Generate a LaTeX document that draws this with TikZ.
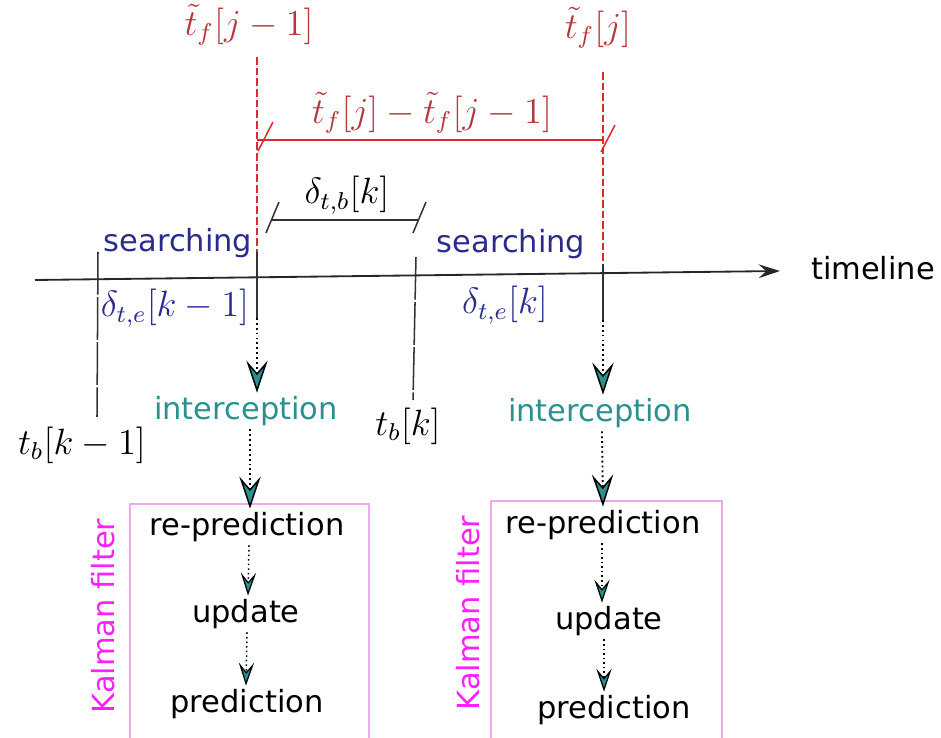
\documentclass[tikz,border=0pt]{standalone}
\usepackage{fontspec}
\setmainfont{DejaVu Sans}
\usetikzlibrary{arrows.meta,positioning}
\definecolor{markred}{HTML}{E0282D}
\definecolor{labelred}{HTML}{B5373B}
\definecolor{phaseblue}{HTML}{2B2B8F}
\definecolor{intcteal}{HTML}{2A9090}
\definecolor{kalmanmag}{HTML}{FF1FFF}
\definecolor{boxpink}{HTML}{F2A6F2}
\definecolor{markgray}{HTML}{333333}
\tikzset{
  redmath/.style={text=labelred, font=\large, inner sep=1pt},
  blackmath/.style={text=black, font=\large, inner sep=1pt},
  bluemath/.style={text=phaseblue, font=\large, inner sep=1pt},
  phase/.style={text=phaseblue, inner sep=1pt},
  intc/.style={text=intcteal, inner sep=1pt},
  kfstep/.style={text=black, inner sep=1pt},
  kflabel/.style={text=kalmanmag, rotate=90, inner sep=1pt},
  kfbox/.style={draw=boxpink, line width=0.6pt},
  redmark/.style={draw=markred, line width=0.6pt, dash pattern=on 2.5pt off 1pt},
  redline/.style={draw=markred, line width=0.5pt},
  blackmark/.style={draw=markgray, line width=0.5pt},
  beammark/.style={draw=markgray, line width=0.5pt, dash pattern=on 14pt off 0.8pt},
  timearrow/.style={-{Stealth[length=7pt,width=4.5pt,inset=2.5pt]}, line width=0.6pt, draw=black!85},
  flowarrow/.style={-{Stealth[length=10.5pt,width=7pt,inset=4pt,fill=intcteal,color=black,line width=0.5pt]},
    densely dotted, line width=0.6pt, draw=black},
  kfarrow/.style={-{Stealth[length=7.5pt,width=5pt,inset=3pt,fill=intcteal,color=black,line width=0.4pt]},
    densely dotted, line width=0.5pt, draw=black}
}
\begin{document}
\begin{tikzpicture}[x=0.328pt,y=-0.328pt]
\useasboundingbox (0,0) rectangle (941,738);

% timeline
\coordinate (t0) at (35,280);
\coordinate (t1) at (780,271);
\draw[timearrow] (t0) -- (t1);
\node (tl) at (873,268) {timeline};

% estimated frame times
\node[redmath] (fjm) at (249,25) {$\tilde{t}_f[j-1]$};
\node[redmath] (fj) at (598,28) {$\tilde{t}_f[j]$};
\coordinate (fjmtop) at (257,57);
\coordinate (fjmaxis) at (257,252);
\coordinate (fjmend) at (257,318);
\coordinate (fjtop) at (603,72);
\coordinate (fjaxis) at (603,264);
\coordinate (fjend) at (603,320);
\draw[redmark] (fjmtop) -- (fjmaxis);
\draw[redmark] (fjtop) -- (fjaxis);
\draw[blackmark] (fjmaxis) -- (fjmend);
\draw[blackmark] (fjaxis) -- (fjend);

% frame interval
\coordinate (da) at (257,140);
\coordinate (db) at (603,140);
\draw[redline] (da) -- (db);
\draw[redline] (da) ++(1,11) -- ++(15,-29);
\draw[redline] (db) ++(-2,12) -- ++(14,-27);
\node[redmath] (fdiff) at (432,113) {$\tilde{t}_f[j]-\tilde{t}_f[j-1]$};

% beam times
\coordinate (bkmtop) at (98,252);
\coordinate (bkmbot) at (97,417);
\coordinate (bktop) at (416,257);
\coordinate (bkbot) at (413,400);
\draw[beammark] (bkmtop) -- (bkmbot);
\draw[beammark] (bktop) -- (bkbot);
\node[blackmath] (tbkm) at (82,445) {$t_b[k-1]$};
\node[blackmath] (tbk) at (408,426) {$t_b[k]$};

% beam interval
\coordinate (ba) at (272,220);
\coordinate (bb) at (419,220);
\draw[blackmark] (ba) -- (bb);
\draw[blackmark] (ba) ++(-6,13) -- ++(13,-31);
\draw[blackmark] (bb) ++(-6,13) -- ++(13,-31);
\node[blackmath] (dtb) at (347,195) {$\delta_{t,b}[k]$};

% phases
\node[phase] (srch1) at (178,243) {searching};
\node[phase] (srch2) at (511,244) {searching};
\node[bluemath] (dte1) at (175,308) {$\delta_{t,e}[k-1]$};
\node[bluemath] (dte2) at (505,305) {$\delta_{t,e}[k]$};

% left chain
\node[intc] (icp1) at (246,411) {interception};
\node[kfstep] (repr1) at (247,527) {re-prediction};
\node[kfstep] (upd1) at (246,614) {update};
\node[kfstep] (pred1) at (247,704) {prediction};
\draw[kfbox] (130,504) rectangle (369,739);
\node[kflabel] (kf1) at (103,616) {Kalman filter};
\draw[flowarrow] (fjmend) -- (fjmend |- icp1.north);
\draw[flowarrow] (icp1.south -| 250,0) -- (repr1.north -| 250,0);
\draw[kfarrow] (repr1.south -| 249,0) -- (upd1.north -| 248,0);
\draw[kfarrow] (upd1.south -| 247,0) -- (pred1.north -| 246,0);

% right chain
\node[intc] (icp2) at (600,413) {interception};
\node[kfstep] (repr2) at (603,525) {re-prediction};
\node[kfstep] (upd2) at (609,621) {update};
\node[kfstep] (pred2) at (614,710) {prediction};
\draw[kfbox] (491,501) rectangle (722,739);
\node[kflabel] (kf2) at (468,613) {Kalman filter};
\draw[flowarrow] (fjend) -- (fjend |- icp2.north);
\draw[flowarrow] (icp2.south -| 602,0) -- (repr2.north -| 603,0);
\draw[kfarrow] (repr2.south -| 602,0) -- (upd2.north -| 602,0);
\draw[kfarrow] (upd2.south -| 604,0) -- (pred2.north -| 604,0);
\end{tikzpicture}
\end{document}
